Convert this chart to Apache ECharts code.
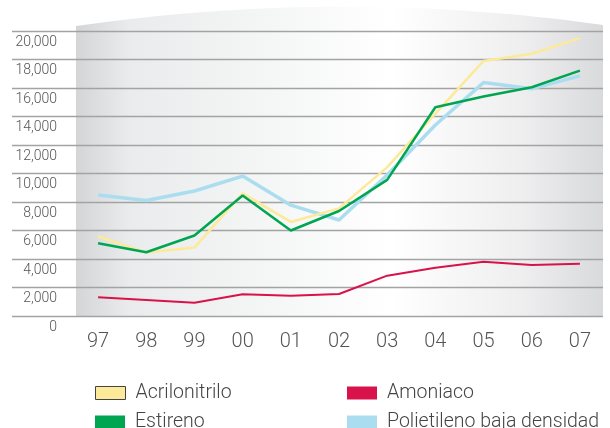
<!DOCTYPE html>
<html>
<head>
<meta charset="utf-8">
<script src="https://cdn.jsdelivr.net/npm/echarts@6/dist/echarts.min.js"></script>
<style>
  html, body { margin: 0; padding: 0; background: #fff; }
  #chart { width: 610px; height: 428px; }
</style>
</head>
<body>
<div id="chart"></div>
<script>
// años (eje X)
var years = ['97', '98', '99', '00', '01', '02', '03', '04', '05', '06', '07']

// valores
var acrilonitrilo = [5600, 4450, 4800, 8600, 6600, 7550, 10450, 14200, 17900, 18400, 19500]
var estireno = [5100, 4470, 5650, 8450, 6000, 7370, 9550, 14650, 15400, 16050, 17220]
var amoniaco = [1310, 1120, 930, 1520, 1420, 1540, 2830, 3390, 3810, 3580, 3670]
var polietileno = [8490, 8100, 8770, 9820, 7780, 6740, 9900, 13400, 16380, 15940, 16850]

var yTicks = { min: 0, max: 20000, interval: 2000 }

var chart = echarts.init(document.getElementById('chart'))

var fontFamily = 'Roboto, "Liberation Sans", sans-serif'

function fmt(v) {
  return v === 0 ? '0' : String(v).replace(/\B(?=(\d{3})+(?!\d))/g, ',')
}

// fondo gris con el borde superior curvado
function backgroundShape() {
  var pts = [[76, 316]]
  for (var i = 0; i <= 40; i++) {
    var t = i / 40
    var x = (1 - t) * (1 - t) * 76 + 2 * t * (1 - t) * 340 + t * t * 603
    var y = (1 - t) * (1 - t) * 26 + 2 * t * (1 - t) * -12 + t * t * 25
    pts.push([x, y])
  }
  pts.push([603, 316])
  return pts
}

// una leyenda por elemento, para colocarlas en dos columnas
function legendItem(item, left, top) {
  return {
    left: left,
    top: top,
    itemWidth: 30,
    itemHeight: 13,
    icon: 'rect',
    padding: 0,
    textStyle: {
      fontSize: 19.5,
      fontWeight: 300,
      fontFamily: fontFamily,
      color: '#444',
      padding: [0, 0, 0, 5]
    },
    data: [item]
  }
}

chart.setOption({
  animation: false,
  graphic: [{
    type: 'polygon',
    z: -10,
    silent: true,
    shape: { points: backgroundShape() },
    style: {
      fill: {
        type: 'linear', x: 0, y: 0, x2: 1, y2: 0,
        colorStops: [
          { offset: 0, color: '#d4d5d7' },
          { offset: 0.1, color: '#eaebec' },
          { offset: 0.3, color: '#f2f3f3' },
          { offset: 0.6, color: '#ffffff' },
          { offset: 0.85, color: '#eeeeef' },
          { offset: 1, color: '#d9dadc' }
        ]
      }
    }
  }],
  grid: [
    { left: 12, right: 7, top: 31, bottom: 112 },
    { left: 74, right: 6, top: 31, bottom: 112 }
  ],
  xAxis: [
    { gridIndex: 0, type: 'value', show: false },
    {
      gridIndex: 1,
      type: 'category',
      data: years,
      boundaryGap: true,
      axisLine: { show: false },
      axisTick: { show: false },
      axisLabel: {
        margin: 16,
        fontSize: 20,
        fontWeight: 300,
        fontFamily: fontFamily,
        color: '#555'
      }
    }
  ],
  yAxis: [
    {
      gridIndex: 0,
      type: 'value',
      min: yTicks.min,
      max: yTicks.max,
      interval: yTicks.interval,
      axisLine: { show: false },
      axisTick: { show: false },
      axisLabel: { show: false },
      splitLine: { show: true, lineStyle: { color: '#a3a3a3', width: 1.3 } }
    },
    {
      gridIndex: 1,
      type: 'value',
      min: yTicks.min,
      max: yTicks.max,
      interval: yTicks.interval,
      axisLine: { show: false },
      axisTick: { show: false },
      splitLine: { show: false },
      axisLabel: {
        margin: 17,
        align: 'right',
        verticalAlign: 'top',
        padding: [4, 0, 0, 0],
        fontSize: 14,
        fontWeight: 300,
        fontFamily: fontFamily,
        color: '#555',
        formatter: fmt
      }
    }
  ],
  legend: [
    legendItem({ name: 'Acrilonitrilo', itemStyle: { borderColor: '#444', borderWidth: 1 } }, 95, 383),
    legendItem('Estireno', 95, 412),
    legendItem('Amoniaco', 347, 383),
    legendItem('Polietileno baja densidad', 347, 412)
  ],
  series: [
    {
      name: 'Polietileno baja densidad',
      type: 'line',
      xAxisIndex: 1,
      yAxisIndex: 1,
      data: polietileno,
      symbol: 'none',
      color: '#abddf0',
      lineStyle: { width: 3.5 }
    },
    {
      name: 'Acrilonitrilo',
      type: 'line',
      xAxisIndex: 1,
      yAxisIndex: 1,
      data: acrilonitrilo,
      symbol: 'none',
      color: '#fde99a',
      lineStyle: { width: 2.5 }
    },
    {
      name: 'Estireno',
      type: 'line',
      xAxisIndex: 1,
      yAxisIndex: 1,
      data: estireno,
      symbol: 'none',
      color: '#00a551',
      lineStyle: { width: 2.5 }
    },
    {
      name: 'Amoniaco',
      type: 'line',
      xAxisIndex: 1,
      yAxisIndex: 1,
      data: amoniaco,
      symbol: 'none',
      color: '#d8124b',
      lineStyle: { width: 2 }
    }
  ]
})
</script>
</body>
</html>
